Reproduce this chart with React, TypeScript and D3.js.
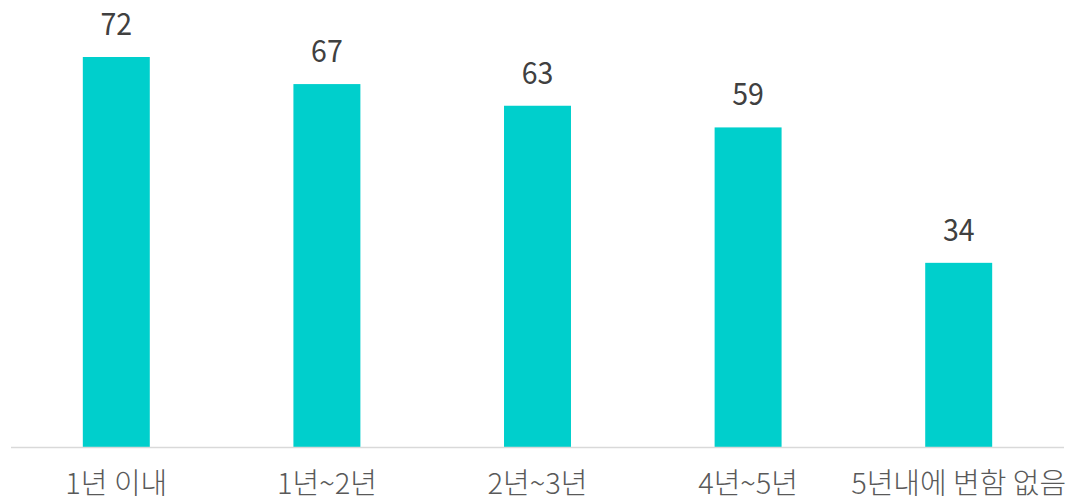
import React from "react";
import * as d3 from "d3";

const categories = ["1년 이내", "1년~2년", "2년~3년", "4년~5년", "5년내에 변함 없음"];
const values = [72, 67, 63, 59, 34];

const W = 1084;
const H = 501;
const left = 11;
const right = 1064;
const baseline = 447;
const topY = 57;

export default function App() {
  const x = d3.scaleBand<string>().domain(categories).range([left, right]).paddingInner(0.682).paddingOuter(0.341);
  const y = d3.scaleLinear().domain([0, 72]).range([baseline, topY]);
  return (
    <svg width={W} height={H} style={{ position: "absolute", left: 0, top: 0 }}>
      <rect width={W} height={H} fill="#fff" />
      {categories.map((c, i) => {
        const cx = (x(c) as number) + x.bandwidth() / 2;
        return (
          <g key={c}>
            <rect x={x(c)} y={y(values[i])} width={x.bandwidth()} height={baseline - y(values[i])} fill="#00CFCC" />
            <text
              x={cx}
              y={y(values[i]) - 22}
              textAnchor="middle"
              fontFamily="'Noto Sans CJK KR', 'Noto Sans', sans-serif"
              fontSize={31}
              fontWeight={400}
              fill="#404040"
              transform={`translate(${cx},0) scale(0.92,1) translate(${-cx},0)`}
            >
              {values[i]}
            </text>
            <text
              x={cx}
              y={494}
              textAnchor="middle"
              fontFamily="'Noto Sans CJK KR', 'Noto Sans', sans-serif"
              fontSize={29}
              fontWeight={300}
              fill="#595959"
            >
              {c}
            </text>
          </g>
        );
      })}
      <line x1={left} x2={right} y1={baseline + 0.5} y2={baseline + 0.5} stroke="#D9D9D9" strokeWidth={1.5} />
    </svg>
  );
}
